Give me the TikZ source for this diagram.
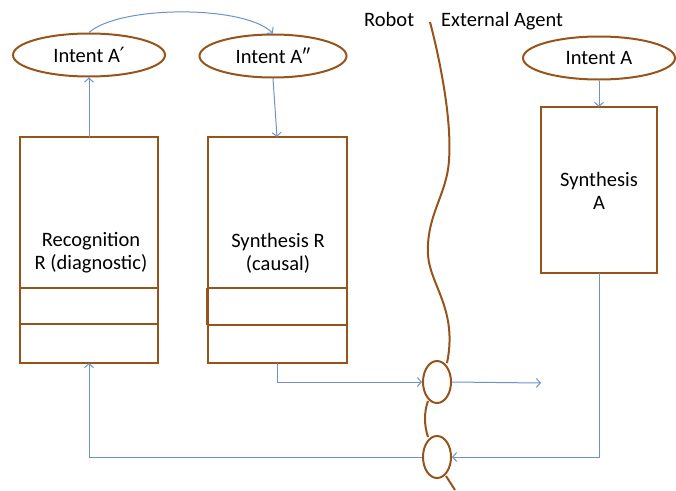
\documentclass[tikz,border=0pt]{standalone}
\usepackage{fontspec}
\setmainfont{Carlito}
\newfontfamily\primefont{DejaVu Sans}
\usetikzlibrary{arrows.meta,shapes.geometric}
\definecolor{rim}{RGB}{150,84,28}
\definecolor{flow}{RGB}{110,145,200}
\begin{document}
\begin{tikzpicture}[x=1pt,y=-1pt,
  font=\fontsize{20.5}{23}\selectfont,
  intent/.style={draw=rim,line width=2pt,ellipse,minimum width=#1,minimum height=43pt,inner sep=0pt},
  unit/.style={draw=rim,line width=2pt},
  link/.style={draw=flow,line width=1pt,-{Straight Barb[length=4pt,width=9pt]}},
  port/.style={draw=rim,line width=2pt,ellipse,minimum width=28pt,minimum height=42pt,inner sep=0pt}]
\useasboundingbox (0,0) rectangle (676,490);

% intent ellipses
\node[intent=152pt] (ia1) at (89,55) {Intent A{\primefont\fontsize{21}{21}\selectfont ′}};
\node[intent=147pt] (ia2) at (273,56) {Intent A″};
\node[intent=152pt] (ia) at (599,58) {Intent A};

% recognition unit
\draw[unit] (20,137) rectangle (158,363);
\draw[unit] (20,288) -- (158,288) (20,324) -- (158,324);
\node[align=center] (rec) at (91,253) {Recognition\\R (diagnostic)};
\coordinate (rtop) at (89,137);
\coordinate (rbot) at (89,363);

% synthesis R unit
\draw[unit] (208,137) rectangle (347,363);
\draw[unit] (207,288) -- (347,288) (207,325) -- (347,325) (207,288) -- (207,325);
\node[align=center] (syr) at (278,253) {Synthesis R\\(causal)};
\coordinate (stop) at (277,137);
\coordinate (sbot) at (277,363);

% synthesis A unit
\draw[unit] (541,107) rectangle (657,273);
\node[align=center] (sya) at (599,191) {Synthesis\\A};
\coordinate (atop) at (599,107);
\coordinate (abot) at (599,273);

% boundary labels
\node[anchor=base west,inner sep=0pt] (robot) at (364,26) {Robot};
\node[anchor=base west,inner sep=0pt] (ext) at (441,26) {External Agent};

% ports on the boundary
\node[port] (p1) at (437,382) {};
\node[port] (p2) at (437,457) {};

% wavy boundary
\draw[rim,line width=2pt] (430,22) .. controls (440,60) and (452,120) .. (449,160)
  .. controls (447,195) and (426,215) .. (428,255)
  .. controls (430,285) and (458,310) .. (447,363);
\draw[rim,line width=2pt] (428,401) .. controls (424,412) and (424,425) .. (428,437);
\draw[rim,line width=2pt] (446,476) -- (455,490);

% connectors
\draw[link] (rtop) -- (ia1.south);
\draw[link] (ia1.north) .. controls (120,5) and (245,5) .. (ia2.north);
\draw[link] (ia2.south) -- (stop);
\draw[link] (ia.south) -- (atop);
\draw[link] (sbot) |- (p1.west);
\coordinate (out) at (541,383);
\draw[link] (p1.east) -- (out);
\draw[link] (abot) |- (p2.east);
\draw[link] (p2.west) -| (rbot);
\end{tikzpicture}
\end{document}
